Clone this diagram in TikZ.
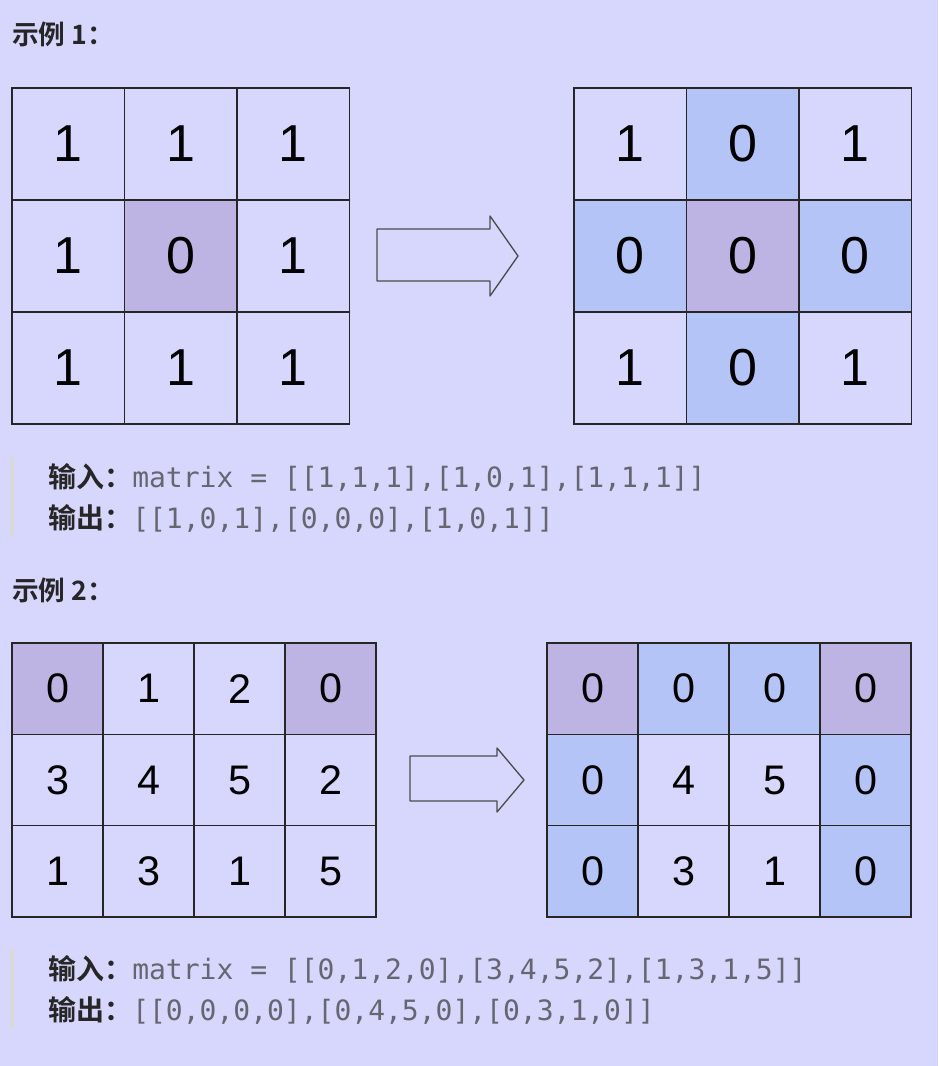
\documentclass[tikz,border=0pt]{standalone}
\usepackage{fontspec}
\setmainfont{Liberation Sans}
\setmonofont{DejaVu Sans Mono}
\newfontfamily\cjk{Noto Sans CJK SC}[BoldFont={* Bold}]
\usetikzlibrary{positioning}
\definecolor{bgc}{HTML}{D7D7FD}
\definecolor{cellw}{HTML}{D7D7FD}
\definecolor{cellp}{HTML}{BEB4E4}
\definecolor{cellb}{HTML}{B4C4F6}
\definecolor{codec}{HTML}{666670}
\tikzset{x=0.75pt, y=-0.75pt,
  cell/.style={draw=black!85, line width=1pt, rectangle, inner sep=0pt, outer sep=0pt},
  bigcell/.style={cell, minimum width=84.4pt, minimum height=84.2pt, font=\fontsize{39}{39}\selectfont},
  smallcell/.style={cell, minimum width=68.25pt, minimum height=68.5pt, font=\fontsize{31}{31}\selectfont},
  title/.style={anchor=west, inner sep=0pt, font=\cjk\bfseries\fontsize{20}{20}\selectfont, text=black!85},
  code/.style={anchor=west, inner sep=0pt, font=\fontsize{21}{21}\selectfont\ttfamily, text=codec},
  bar/.style={draw=black!15, line width=3pt},
  bigarrow/.style={draw=black!70, fill=cellw, line width=1pt, line join=round}}
\begin{document}
\begin{tikzpicture}
\useasboundingbox[fill=bgc] (0,0) rectangle (938,1066);

% example 1
\node[title] (t1) at (12,34) {示例 1：};
\foreach \v/\c [count=\i from 0] in {1/w,1/w,1/w,1/w,0/p,1/w,1/w,1/w,1/w} {
  \pgfmathtruncatemacro\col{mod(\i,3)}
  \pgfmathtruncatemacro\row{\i/3}
  \node[bigcell, fill=cell\c] (a-\row-\col) at (68.25+112.5*\col, 144+112*\row) {\v};
}
\foreach \v/\c [count=\i from 0] in {1/w,0/b,1/w,0/b,0/p,0/b,1/w,0/b,1/w} {
  \pgfmathtruncatemacro\col{mod(\i,3)}
  \pgfmathtruncatemacro\row{\i/3}
  \node[bigcell, fill=cell\c] (b-\row-\col) at (630.25+112.5*\col, 144+112*\row) {\v};
}
\draw[bigarrow] (377,229) -- (490,229) -- (490,216) -- (518,256) -- (490,296) -- (490,281) -- (377,281) -- cycle;
\draw[bar] (12,457) -- (12,536);
\node[code] (in1) at (48,477) {{\cjk\bfseries\color{black!85}输入：}matrix = [[1,1,1],[1,0,1],[1,1,1]]};
\node[code] (out1) at (48,518) {{\cjk\bfseries\color{black!85}输出：}[[1,0,1],[0,0,0],[1,0,1]]};

% example 2
\node[title] (t2) at (12,590) {示例 2：};
\foreach \v/\c [count=\i from 0] in {0/p,1/w,2/w,0/p,3/w,4/w,5/w,2/w,1/w,3/w,1/w,5/w} {
  \pgfmathtruncatemacro\col{mod(\i,4)}
  \pgfmathtruncatemacro\row{\i/4}
  \node[smallcell, fill=cell\c] (c-\row-\col) at (57.5+91*\col, 688.7+91.3*\row) {\v};
}
\foreach \v/\c [count=\i from 0] in {0/p,0/b,0/b,0/p,0/b,4/w,5/w,0/b,0/b,3/w,1/w,0/b} {
  \pgfmathtruncatemacro\col{mod(\i,4)}
  \pgfmathtruncatemacro\row{\i/4}
  \node[smallcell, fill=cell\c] (d-\row-\col) at (592.5+91*\col, 688.7+91.3*\row) {\v};
}
\draw[bigarrow] (410,756) -- (497,756) -- (497,748) -- (524,780) -- (497,812) -- (497,801) -- (410,801) -- cycle;
\draw[bar] (12,950) -- (12,1029);
\node[code] (in2) at (48,969) {{\cjk\bfseries\color{black!85}输入：}matrix = [[0,1,2,0],[3,4,5,2],[1,3,1,5]]};
\node[code] (out2) at (48,1010) {{\cjk\bfseries\color{black!85}输出：}[[0,0,0,0],[0,4,5,0],[0,3,1,0]]};
\end{tikzpicture}
\end{document}
